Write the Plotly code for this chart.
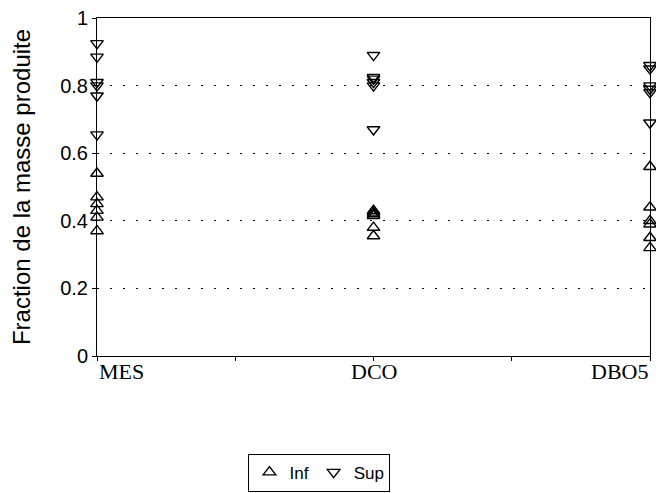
import plotly.graph_objects as go

categories = ["MES", "DCO", "DBO5"]
inf_values = [
    [0.54, 0.47, 0.45, 0.43, 0.41, 0.37],
    [0.43, 0.425, 0.42, 0.415, 0.38, 0.355],
    [0.56, 0.44, 0.40, 0.39, 0.35, 0.32],
]
sup_values = [
    [0.925, 0.885, 0.81, 0.80, 0.77, 0.655],
    [0.89, 0.825, 0.82, 0.81, 0.80, 0.67],
    [0.86, 0.85, 0.80, 0.79, 0.78, 0.69],
]
y_ticks = [0, 0.2, 0.4, 0.6, 0.8, 1]
y_tick_labels = ["0", "0.2", "0.4", "0.6", "0.8", "1"]

fig = go.Figure()

def flat(values):
    xs, ys = [], []
    for i, vals in enumerate(values):
        xs += [i] * len(vals)
        ys += vals
    return xs, ys

xi, yi = flat(inf_values)
xs, ys = flat(sup_values)

fig.add_trace(go.Scatter(x=xi, y=yi, mode="markers", name="Inf", cliponaxis=False,
                         marker=dict(symbol="triangle-up-open", size=11, color="black",
                                     line=dict(width=1.4, color="black"))))
fig.add_trace(go.Scatter(x=xs, y=ys, mode="markers", name="Sup", cliponaxis=False,
                         marker=dict(symbol="triangle-down-open", size=11, color="black",
                                     line=dict(width=1.4, color="black"))))

anchors = ["left", "center", "right"]
for i, c in enumerate(categories):
    fig.add_annotation(x=i, y=0, xref="x", yref="paper", text=c, showarrow=False,
                       xanchor=anchors[i], yanchor="top", yshift=-1,
                       font=dict(family="Liberation Serif", size=22, color="black"))

fig.update_xaxes(range=[0, 2], tickvals=[0, 0.5, 1, 1.5, 2], ticktext=["", "", "", "", ""],
                 ticks="outside", ticklen=4, tickcolor="black", showgrid=False,
                 showline=True, linecolor="black", linewidth=1, mirror=True, zeroline=False)
fig.update_yaxes(range=[0, 1], tickvals=y_ticks, ticktext=y_tick_labels,
                 ticks="outside", ticklen=4, tickcolor="black",
                 showgrid=True, gridcolor="black", gridwidth=1, griddash="2px,11px",
                 showline=True, linecolor="black", linewidth=1, mirror=True, zeroline=False,
                 title=dict(text="Fraction de la masse produite", standoff=22,
                            font=dict(family="Liberation Sans", size=24, color="black")),
                 tickfont=dict(family="Liberation Sans", size=20, color="black"))

fig.update_layout(
    width=656, height=493,
    margin=dict(l=97, r=6, t=18, b=137, autoexpand=False),
    plot_bgcolor="white", paper_bgcolor="white",
    showlegend=True,
    legend=dict(orientation="h", x=0.487, xref="container", xanchor="center",
                y=0.08, yref="container", yanchor="top",
                bordercolor="black", borderwidth=1, bgcolor="white",
                font=dict(family="Liberation Sans", size=17, color="black"),
                itemwidth=30, tracegroupgap=0),
)

fig.write_html("out.html", config={"displayModeBar": False},
               post_script="document.body.style.margin='0px';document.body.style.overflow='hidden';")
